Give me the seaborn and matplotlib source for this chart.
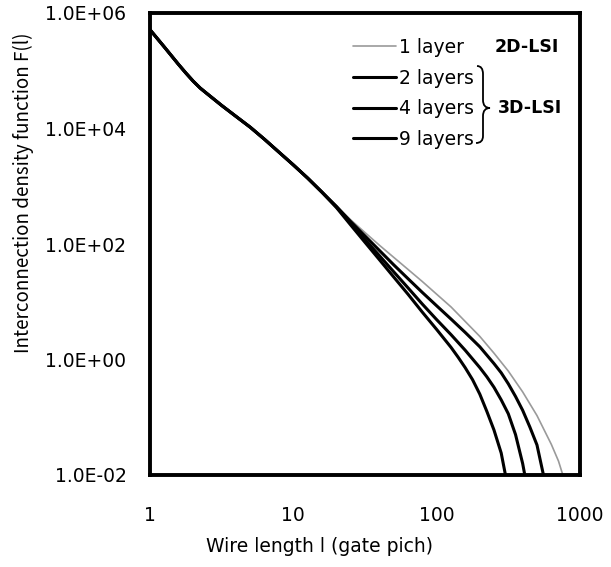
import pandas as pd
import seaborn as sns
from matplotlib import pyplot as plt
from matplotlib.path import Path
from matplotlib.patches import PathPatch

# shared part of all curves (wire length l, F(l))
common_l = [1, 1.26, 1.58, 1.78, 2.0, 2.24, 2.51, 3.16, 3.98, 5.01, 6.31, 7.94, 10, 12.6, 15.8]
common_f = [5.13e5, 2.57e5, 1.29e5, 9.12e4, 6.61e4, 5.01e4, 3.98e4, 2.51e4, 1.62e4, 1.05e4,
            6.46e3, 3.89e3, 2.34e3, 1.38e3, 794]

# tails after the curves split
l_1layer = [20, 25.1, 31.6, 39.8, 50.1, 63.1, 79.4, 100, 126, 158, 200, 251, 316, 398,
            501, 631, 708, 759]
f_1layer = [447, 263, 158, 95.5, 58.9, 36.3, 22.4, 13.5, 8.13, 4.57, 2.51, 1.29, 0.631,
            0.275, 0.107, 0.0339, 0.0174, 0.0100]

l_2layers = [20, 25.1, 31.6, 39.8, 50.1, 63.1, 79.4, 100, 126, 158, 200, 251, 282, 316,
             355, 398, 447, 501, 556]
f_2layers = [447, 245, 138, 77.6, 43.7, 25.1, 14.5, 8.51, 5.01, 2.95, 1.66, 0.851, 0.589,
             0.380, 0.229, 0.132, 0.0676, 0.0331, 0.0100]

l_4layers = [20, 25.1, 31.6, 39.8, 50.1, 63.1, 79.4, 100, 126, 158, 200, 224, 251, 282,
             316, 355, 398, 412]
f_4layers = [437, 229, 120, 63.1, 33.1, 17.4, 9.12, 4.90, 2.69, 1.45, 0.724, 0.501, 0.331,
             0.200, 0.115, 0.0501, 0.0158, 0.0100]

l_9layers = [20, 25.1, 31.6, 39.8, 50.1, 63.1, 79.4, 100, 126, 141, 158, 178, 200, 224,
             251, 282, 302]
f_9layers = [427, 214, 107, 53.7, 26.9, 13.5, 6.61, 3.31, 1.62, 1.10, 0.724, 0.447, 0.251,
             0.126, 0.0603, 0.0240, 0.0100]

labels = ['1 layer', '2 layers', '4 layers', '9 layers']
tails = [(l_1layer, f_1layer), (l_2layers, f_2layers), (l_4layers, f_4layers), (l_9layers, f_9layers)]
colors = ['#9a9a9a', 'black', 'black', 'black']
widths = [1.2, 2.2, 2.2, 2.2]

yticks = [1e-2, 1e0, 1e2, 1e4, 1e6]
ytick_labels = ['1.0E-02', '1.0E+00', '1.0E+02', '1.0E+04', '1.0E+06']
xticks = [1, 10, 100, 1000]
xtick_labels = ['1', '10', '100', '1000']

sns.set_theme(style='white')
plt.rcParams['font.family'] = ['DejaVu Sans']
plt.rcParams['text.color'] = 'black'
plt.rcParams['axes.labelcolor'] = 'black'

fig = plt.figure(figsize=(6.11, 5.67), dpi=100)
ax = fig.add_axes([150 / 611, 1 - 475 / 567, 430 / 611, 462 / 567])

for name, (tl, tf), c, w in zip(labels, tails, colors, widths):
    df = pd.DataFrame({'l': common_l + tl, 'F': common_f + tf})
    sns.lineplot(data=df, x='l', y='F', color=c, linewidth=w, label=name,
                 sort=False, ax=ax, zorder=1 if c != 'black' else 2)

ax.set_xscale('log')
ax.set_yscale('log')
ax.set_xlim(1, 1000)
ax.set_ylim(1e-2, 1e6)
ax.set_xticks(xticks)
ax.set_xticklabels(xtick_labels)
ax.set_yticks(yticks)
ax.set_yticklabels(ytick_labels)
ax.minorticks_off()
ax.tick_params(axis='both', direction='in', length=5, width=1.2, labelsize=13.5,
               colors='black')
ax.tick_params(axis='y', pad=17)
ax.tick_params(axis='x', pad=22)
for s in ax.spines.values():
    s.set_linewidth(2.8)
    s.set_color('black')

ax.set_xlabel('Wire length l (gate pich)', fontsize=13.5)
ax.set_ylabel('Interconnection density function F(l)', fontsize=13.5,
              family=['Noto Sans CJK JP', 'DejaVu Sans'])
ax.xaxis.set_label_coords(0.395, -0.135)
ax.yaxis.set_label_coords(-0.27, 0.61)

leg = ax.legend(loc='upper left', bbox_to_anchor=(0.472, 0.946), frameon=False,
                fontsize=13.5, handlelength=2.3, handletextpad=0.15,
                labelspacing=0.62, borderpad=0, borderaxespad=0, labelcolor='black')

ax.text(0.877, 0.926, '2D-LSI', transform=ax.transAxes, fontsize=12.5,
        fontweight='bold', ha='center', va='center')
ax.text(0.808, 0.794, '3D-LSI', transform=ax.transAxes, fontsize=12.5,
        fontweight='bold', ha='left', va='center')

# curly brace grouping the 3D entries
def px(x, y):
    return ((x - 150) / 430, (475 - y) / 462)

verts = [px(477, 66), px(483, 66), px(483, 74),
         px(483, 100), px(483, 108), px(490, 108),
         px(483, 108), px(483, 116), px(483, 136),
         px(483, 143), px(476, 143)]
codes = [Path.MOVETO, Path.CURVE3, Path.CURVE3,
         Path.LINETO, Path.CURVE3, Path.CURVE3,
         Path.CURVE3, Path.CURVE3, Path.LINETO,
         Path.CURVE3, Path.CURVE3]
ax.add_patch(PathPatch(Path(verts, codes), transform=ax.transAxes,
                       fill=False, lw=1.3, color='black'))

fig.savefig('out.png', dpi=100)
